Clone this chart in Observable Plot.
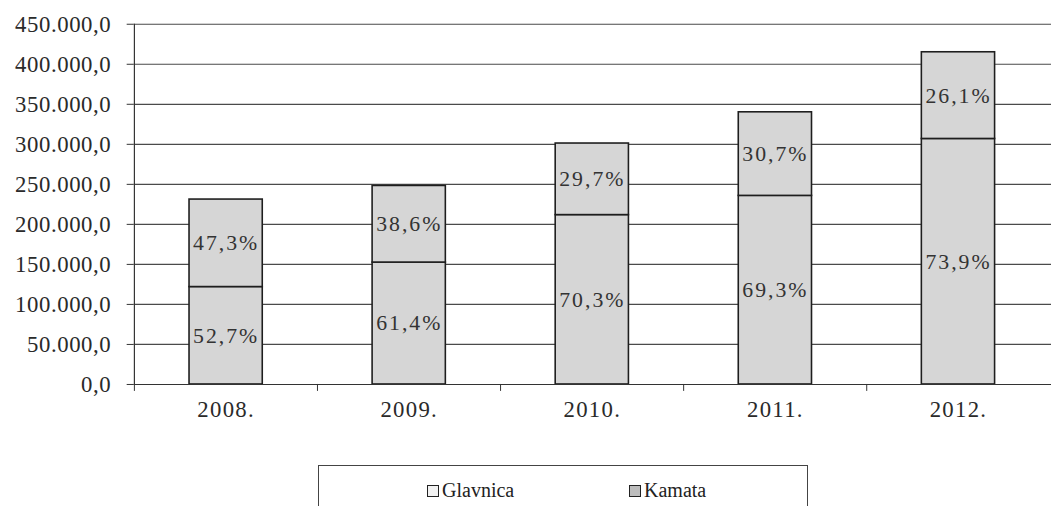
<!DOCTYPE html>
<html>
<head>
<meta charset="utf-8">
<script src="https://cdn.jsdelivr.net/npm/d3@7"></script>
<script src="https://cdn.jsdelivr.net/npm/@observablehq/plot@0.6"></script>
<style>
  html, body { margin: 0; padding: 0; background: #fff; overflow: hidden; }
  #wrap { position: relative; width: 1051px; height: 506px; overflow: hidden; }
  #chart { position: absolute; left: 0; top: 0; }
  #chart svg, #chart svg text { font-family: "Liberation Serif", "DejaVu Serif", serif; }
  #legend {
    position: absolute; left: 318px; top: 465px; width: 490px; height: 60px;
    border: 1.5px solid #444; box-sizing: border-box;
    font-family: "Liberation Serif", "DejaVu Serif", serif; font-size: 20px; color: #222;
  }
  .item { position: absolute; top: 13px; display: flex; align-items: center; }
  .sw { width: 10px; height: 10px; border: 1.5px solid #222; margin-right: 3px; }
</style>
</head>
<body>
<div id="wrap">
  <div id="chart"></div>
  <div id="legend">
    <div class="item" style="left:108px"><div class="sw" style="background:#f2f2f2"></div><span>Glavnica</span></div>
    <div class="item" style="left:310px"><div class="sw" style="background:#bdbdbd"></div><span>Kamata</span></div>
  </div>
</div>
<script>
const years = ["2008.", "2009.", "2010.", "2011.", "2012."];
const glavnica = [121700, 152300, 211600, 235600, 306700];
const kamata = [109300, 95700, 89400, 104400, 108300];
const glavnicaLabels = ["52,7%", "61,4%", "70,3%", "69,3%", "73,9%"];
const kamataLabels = ["47,3%", "38,6%", "29,7%", "30,7%", "26,1%"];
const yTicks = [0, 50000, 100000, 150000, 200000, 250000, 300000, 350000, 400000, 450000];

const rows = [];
years.forEach((y, i) => {
  rows.push({year: y, series: "Glavnica", value: glavnica[i], label: glavnicaLabels[i]});
  rows.push({year: y, series: "Kamata", value: kamata[i], label: kamataLabels[i]});
});

const fmt = d => d3.format(",.1f")(d).replace(/,/g, "#").replace(".", ",").replace(/#/g, ".");

const width = 1062, marginLeft = 135, marginRight = 0;
const step = (width - marginLeft - marginRight) / years.length;
const font = "Liberation Serif";

const chart = Plot.plot({
  width,
  height: 440,
  marginLeft,
  marginRight,
  marginTop: 24,
  marginBottom: 52,
  style: {fontFamily: font, fontSize: "22px", color: "#2a2a2a", background: "transparent"},
  x: {domain: years, paddingInner: 0.6, paddingOuter: 0.3, label: null},
  y: {domain: [0, 450000], label: null},
  marks: [
    Plot.gridY(yTicks, {stroke: "#4a4a4a", strokeOpacity: 1, strokeWidth: 1.2}),
    Plot.barY(rows, Plot.stackY({x: "year", y: "value", z: "series", fill: "#d6d6d6", stroke: "#1e1e1e", strokeWidth: 1.6})),
    Plot.text(rows, Plot.stackY({x: "year", y: "value", z: "series", text: "label", fill: "#333", fontSize: 22, fontFamily: font})),
    Plot.axisY({ticks: yTicks, tickFormat: fmt, tickSize: 7, tickPadding: 16, fontSize: 23, fontFamily: font, stroke: "#333"}),
    Plot.ruleY([0], {stroke: "#333", strokeWidth: 1.2}),
    Plot.ruleX(years, {x: d => d, y1: 0, y2: 0, insetBottom: -7, dx: -step / 2, stroke: "#333"}),
    Plot.axisX({tickSize: 0, tickPadding: 17, fontSize: 23, fontFamily: font}),
    Plot.ruleX([0], {x: () => years[0], dx: -step / 2, stroke: "#333", strokeWidth: 1.2})
  ]
});
d3.select(chart).selectAll('g[aria-label="text"] text').attr("letter-spacing", "2px");
d3.select(chart).selectAll('g[aria-label="y-axis tick label"] text').attr("letter-spacing", "0.6px");
d3.select(chart).selectAll('g[aria-label="x-axis tick label"] text').attr("letter-spacing", "1.3px");
document.getElementById("chart").appendChild(chart);
</script>
</body>
</html>
